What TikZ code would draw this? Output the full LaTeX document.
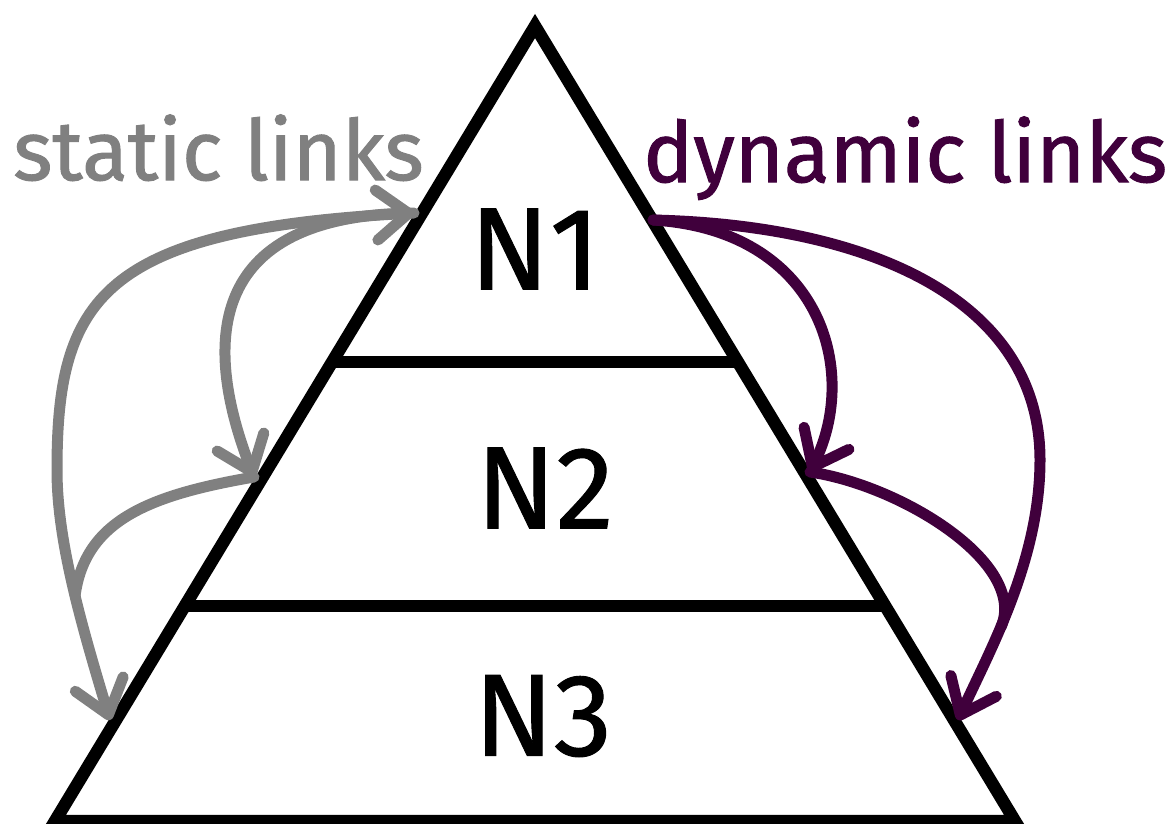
\documentclass[tikz,border=0pt]{standalone}
\usepackage{fontspec}
\setmainfont{Fira Sans}
\newfontfamily\captionfont{Fira Sans}[FakeBold=1.2]
\newfontfamily\tierfont{Fira Sans}[FakeBold=0.8]
\usetikzlibrary{arrows.meta}
\definecolor{staticgray}{RGB}{128,128,128}
\definecolor{dynpurple}{RGB}{64,0,60}
\tikzset{
  linkhead/.tip={Straight Barb[length=32pt,width=50pt,round]},
  pyramid edge/.style={line width=12.5pt, line join=miter},
  tier divider/.style={line width=12pt},
  tier label/.style={font=\tierfont\fontsize{117}{117}\selectfont, inner sep=0pt},
  link caption/.style={font=\captionfont\fontsize{84}{84}\selectfont, inner sep=0pt, anchor=base west},
  static link/.style={draw=staticgray, line width=11pt, line cap=round},
  dynamic link/.style={draw=dynpurple, line width=11pt, line cap=round}
}
\begin{document}
\begin{tikzpicture}[x=1pt,y=-1pt]
\useasboundingbox (0,0) rectangle (1174,823);

% pyramid outline and tier dividers
\coordinate (apex) at (535,26);
\coordinate (bl) at (55,821);
\coordinate (br) at (1015,821);
\draw[pyramid edge] (apex) -- (bl) -- (br) -- cycle;
\coordinate (d1l) at (331,362);
\coordinate (d1r) at (739,362);
\coordinate (d2l) at (183.5,606);
\coordinate (d2r) at (886.5,606);
\draw[tier divider] (d1l) -- (d1r);
\draw[tier divider] (d2l) -- (d2r);

% tier labels
\node[tier label] (n1) at (535,249) {N1};
\node[tier label] (n2) at (545,488) {N2};
\node[tier label] (n3) at (543,716) {N3};

% captions
\node[link caption, text=staticgray] (cap static) at (13,180) {static links};
\node[link caption, text=dynpurple] (cap dynamic) at (643,182) {dynamic links};

% static links (left side)
\coordinate (s1) at (414,213);
\coordinate (s2) at (254,477);
\coordinate (s3) at (110,720);
\coordinate (sbend) at (57,470);
\coordinate (sfork) at (75,596);
\draw[static link, linkhead-linkhead] (s3) .. controls (80,620) and (57,540) .. (sbend)
  .. controls (57,300) and (100,230) .. (s1);
\draw[static link, -linkhead] (s1) .. controls (200,215) and (205,350) .. (s2);
\draw[static link] (sfork) .. controls (85,520) and (150,495) .. (s2);

% dynamic links (right side)
\coordinate (d1) at (653,220);
\coordinate (d2) at (810,472);
\coordinate (d3) at (958,720);
\coordinate (dbend) at (1040,460);
\coordinate (dfork) at (1001,627);
\draw[dynamic link, -linkhead] (d1) .. controls (870,225) and (1040,300) .. (dbend)
  .. controls (1040,560) and (990,650) .. (d3);
\draw[dynamic link, -linkhead] (d1) .. controls (820,230) and (860,370) .. (d2);
\draw[dynamic link] (d2) .. controls (900,485) and (1028,563) .. (dfork);
\end{tikzpicture}
\end{document}
